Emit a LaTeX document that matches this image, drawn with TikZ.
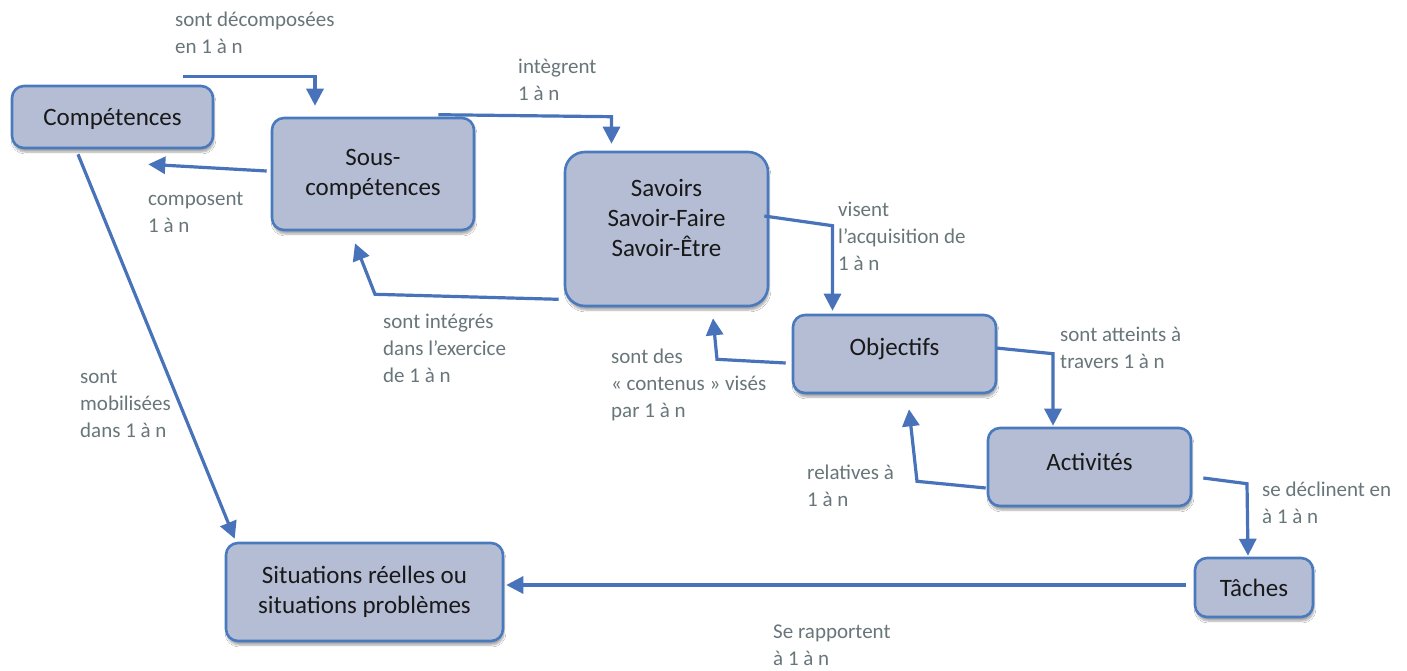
\documentclass[tikz,border=0pt]{standalone}
\usepackage{fontspec}
\setmainfont{Carlito}
\usetikzlibrary{arrows.meta,calc,shadows.blur}
\definecolor{boxfill}{RGB}{180,189,212}
\definecolor{boxline}{RGB}{74,122,190}
\definecolor{linkblue}{RGB}{72,114,186}
\definecolor{labelgrey}{RGB}{104,118,122}
\begin{document}
\begin{tikzpicture}[x=1pt,y=-1pt,
  concept/.style={draw=boxline, line width=2.6pt, fill=boxfill, rounded corners=12pt,
    align=center, inner sep=0pt, font=\fontsize{25}{30}\selectfont, text=black!90,
    blur shadow={shadow xshift=1pt, shadow yshift=-4pt, shadow blur steps=6, shadow opacity=35}},
  link/.style={draw=linkblue, line width=3.2pt, -{Triangle[width=17pt,length=17pt]}},
  rel/.style={anchor=base west, align=left, inner sep=0pt, text=labelgrey,
    font=\fontsize{21}{27}\selectfont}]
\useasboundingbox[fill=white] (0,0) rectangle (1407,670);

% concepts
\node[concept, minimum width=201pt, minimum height=62pt, text height=22pt] (comp) at (112.5,117) {Compétences};
\node[concept, minimum width=202pt, minimum height=112pt] (sous) at (373,174) {Sous-\\compétences};
\node[concept, minimum width=203pt, minimum height=154pt, rounded corners=20pt, text depth=22pt] (sav) at (666.5,229) {Savoirs\\Savoir-Faire\\Savoir-Être};
\node[concept, minimum width=203pt, minimum height=78pt, text depth=14pt] (obj) at (894.5,354) {Objectifs};
\node[concept, minimum width=203pt, minimum height=78pt, text depth=10pt] (act) at (1089.5,467) {Activités};
\node[concept, minimum width=118pt, minimum height=59pt] (tac) at (1254,587.5) {Tâches};
\node[concept, minimum width=277pt, minimum height=98pt] (sit) at (364.5,592) {Situations réelles ou\\situations problèmes};

% relations
\draw[link] ([shift={(-31,-8)}]comp.north east) -| ([shift={(-58,-11)}]sous.north);
\draw[link] ([shift={(-4,-3)}]sous.west) -- ([shift={(-66,15)}]comp.south east);
\draw[link] ([shift={(-37,-2)}]sous.north east) -- ([shift={(-55,-34)}]sav.north) -- ([shift={(-55,-7)}]sav.north);
\draw[link] ([shift={(-5,-13)}]sav.east) -- ([shift={(-62,-88)}]obj.north) -- ([shift={(-62,-3)}]obj.north);
\draw[link] ([shift={(-5,-8)}]sav.south west) -- ([shift={(2,63)}]sous.south) -- ([shift={(-18,12)}]sous.south);
\draw[link] ([shift={(-6,9)}]obj.west) -- ([shift={(50.5,52)}]sav.south) -- ([shift={(46.5,11)}]sav.south);
\draw[link] ([shift={(-1,-6)}]obj.east) -- ([shift={(-36.5,-73)}]act.north) -- ([shift={(-36.5,-1)}]act.north);
\draw[link] ([shift={(-1,21)}]act.west) -- ([shift={(22.5,87)}]obj.south) -- ([shift={(14.5,15)}]obj.south);
\draw[link] ([shift={(11,11)}]act.east) -- ([shift={(-7,-73)}]tac.north) -- ([shift={(-6,-1)}]tac.north);
\draw[link] ([shift={(-8,-2.5)}]tac.west) -- ([shift={(2,-7)}]sit.east);
\draw[link] ([shift={(-34.5,5)}]comp.south) -- ([shift={(10,-3)}]sit.north west);

% relation labels (placed by the baseline of their last line)
\node[rel] (l1) at (175,53) {sont décomposées\\en 1 à n};
\node[rel] (l2) at (148,232) {composent\\1 à n};
\node[rel] (l3) at (518,100) {intègrent\\1 à n};
\node[rel] (l4) at (838,270) {visent\\l’acquisition de\\1 à n};
\node[rel] (l5) at (383,382) {sont intégrés\\dans l’exercice\\de 1 à n};
\node[rel] (l6) at (611,417) {sont des\\« contenus » visés\\par 1 à n};
\node[rel] (l7) at (1060,368) {sont atteints à\\travers 1 à n};
\node[rel] (l8) at (807,506) {relatives à\\1 à n};
\node[rel] (l9) at (1262,523) {se déclinent en\\à 1 à n};
\node[rel] (l10) at (773,665) {Se rapportent\\à 1 à n};
\node[rel] (l11) at (80,437) {sont\\mobilisées\\dans 1 à n};
\end{tikzpicture}
\end{document}
